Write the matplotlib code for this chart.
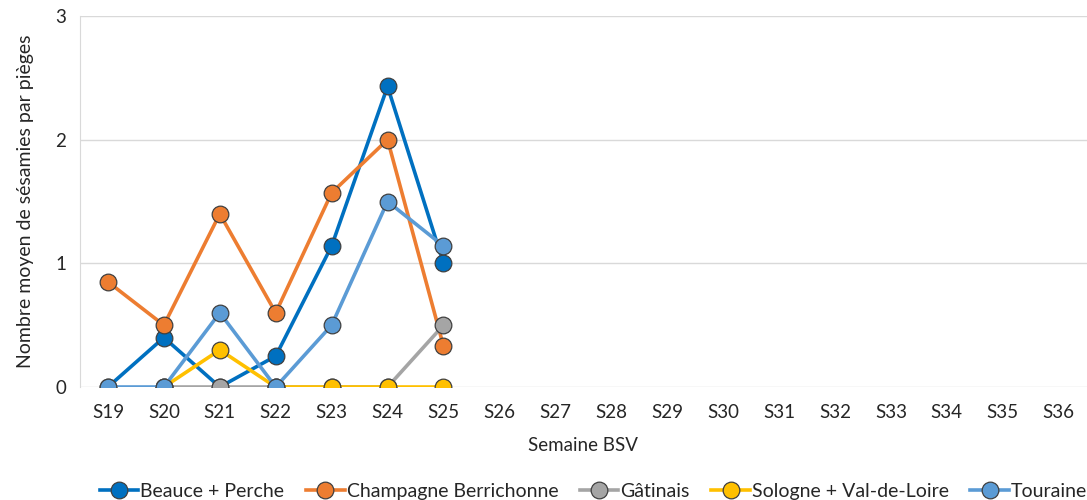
import matplotlib
matplotlib.use('Agg')

import numpy as np
import matplotlib.pyplot as plt

plt.rcParams['font.family'] = ['Lato', 'DejaVu Sans']

weeks = ['S%d' % w for w in range(19, 37)]

beauce = [0, 0.4, 0, 0.25, 1.14, 2.43, 1.0]
champagne = [0.85, 0.5, 1.4, 0.6, 1.57, 2.0, 0.33]
gatinais = [None, 0, 0, 0, 0, 0, 0.5]
sologne = [None, 0, 0.3, 0, 0, 0, 0]
touraine = [0, 0, 0.6, 0, 0.5, 1.5, 1.14]

series = [
    ('Beauce + Perche', beauce, '#0070C0'),
    ('Champagne Berrichonne', champagne, '#ED7D31'),
    ('Gâtinais', gatinais, '#A5A5A5'),
    ('Sologne + Val-de-Loire', sologne, '#FFC000'),
    ('Touraine', touraine, '#5B9BD5'),
]

fig = plt.figure(figsize=(10.87, 5), dpi=100)
ax = fig.add_axes([0.0736, 0.226, 0.926, 0.742])

for label, vals, color in series:
    y = np.array([np.nan if v is None else v for v in vals], dtype=float)
    x = np.arange(len(y)) + 0.5
    ax.plot(x, y, color=color, lw=2.6, marker='o', ms=12,
            markerfacecolor=color, markeredgecolor='#404040',
            markeredgewidth=0.9, label=label)

ax.set_xlim(0, len(weeks))
ax.set_ylim(0, 3)
ax.set_xticks(np.arange(len(weeks)) + 0.5)
ax.set_xticklabels(weeks)
ax.set_yticks([0, 1, 2, 3])
ax.tick_params(length=0, labelsize=13.5, colors='#262626')
ax.tick_params(axis='x', pad=12)
ax.tick_params(axis='y', pad=10)
ax.grid(axis='y', color='#D9D9D9', lw=1)
ax.set_axisbelow(True)
for s in ['top', 'right', 'bottom']:
    ax.spines[s].set_visible(False)
ax.spines['left'].set_color('#D9D9D9')

ax.set_xlabel('Semaine BSV', fontsize=13.5, color='#262626', labelpad=12)
ax.set_ylabel('Nombre moyen de sésamies par pièges', fontsize=14, color='#262626', labelpad=15)

fig.legend(loc='lower center', bbox_to_anchor=(0.546, -0.035), ncol=5, frameon=False,
           fontsize=14, handlelength=2.0, handletextpad=0.1, columnspacing=1.1,
           labelcolor='#262626')

plt.savefig('out.png')
